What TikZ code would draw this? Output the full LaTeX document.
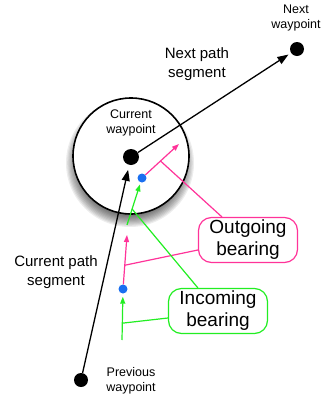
\documentclass[tikz,border=0pt]{standalone}
\usepackage{fontspec}
\setmainfont{Liberation Sans}
\usetikzlibrary{arrows.meta,calc}
\definecolor{bearpink}{HTML}{FF3399}
\definecolor{beargreen}{HTML}{22EE22}
\definecolor{dotblue}{HTML}{1A6FF0}

\begin{document}
\begin{tikzpicture}[
  x=1pt, y=-1pt,
  wpt/.style={circle, fill=black, inner sep=0pt, minimum size=14pt},
  bdot/.style={circle, fill=dotblue, inner sep=0pt, minimum size=9pt},
  seg/.style={-{Triangle[length=11pt,width=8pt]}, line width=1.3pt},
  outline/.style={bearpink, line width=1.2pt},
  inline/.style={beargreen, line width=1.2pt},
  bear/.style={-{Triangle[length=7pt,width=5pt]}},
  lbl/.style={align=center, font=\fontsize{15}{18.5}\selectfont},
  wptlbl/.style={align=center, font=\fontsize{12.5}{15.5}\selectfont},
  callout/.style={draw, rounded corners=13pt, line width=1.2pt, fill=white,
                  minimum width=99pt, minimum height=45pt, align=center,
                  inner sep=1pt, font=\fontsize{19}{22}\selectfont},
]
\useasboundingbox (0,0) rectangle (321,397);

% zone round the current waypoint, with a soft shadow
\foreach \i in {0,...,9}
  \fill[black, opacity=0.07] (130,163) circle[radius=64pt-1.2pt*\i];
\node[circle, draw, line width=1.6pt, fill=white, minimum size=116pt] (zone) at (131,156) {};

% waypoints
\node[wpt, minimum size=16pt] (cur) at (131,157) {};
\node[wpt] (next) at (297,49) {};
\node[wpt] (prev) at (81,380) {};
\node[wptlbl] (curlbl) at (131,123) {Current\\waypoint};
\node[wptlbl] (nextlbl) at (296,18) {Next\\waypoint};
\node[wptlbl] (prevlbl) at (131,381) {Previous\\waypoint};

% path segments
\draw[seg, shorten >=3pt] (cur) -- (next);
\draw[seg, shorten >=5pt] (prev) -- (cur);
\node[lbl] (nextseg) at (197,64) {Next path\\segment};
\node[lbl] (curseg) at (56,272) {Current path\\segment};

% bearings
\node[bdot] (blueA) at (142,178) {};
\node[bdot] (blueB) at (123,289) {};
\coordinate (outA) at (179,144);
\coordinate (outB) at (127,235);
\coordinate (inA) at (127,225);
\coordinate (inB) at (122,340);
\draw[outline, bear] (blueA) -- (outA);
\draw[outline, bear] (blueB) -- (outB);
\draw[inline, bear, shorten >=2pt] (inA) -- (blueA);
\draw[inline, bear, shorten >=3pt] (inB) -- (blueB);

% callouts
\node[callout, draw=bearpink] (outbox) at (248,240) {Outgoing\\bearing};
\node[callout, draw=beargreen] (inbox) at (218,311) {Incoming\\bearing};
\draw[outline] ($(outbox.north west)+(24,0)$) -- ($(blueA)!0.5!(outA)$);
\draw[outline] ($(outbox.west)+(0,10)$) -- ($(blueB)!0.44!(outB)$);
\draw[inline] ($(inbox.north west)+(30,0)$) -- ($(inA)!0.34!(blueA)$);
\draw[inline] ($(inbox.west)+(0,7)$) -- ($(inB)!0.33!(blueB)$);

\end{tikzpicture}
\end{document}
